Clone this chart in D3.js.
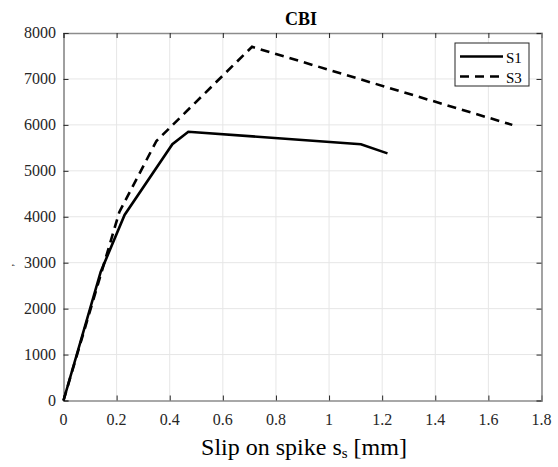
<!DOCTYPE html>
<html>
<head>
<meta charset="utf-8">
<script src="https://cdn.jsdelivr.net/npm/d3@7"></script>
<style>
  body { margin: 0; background: #fff; }
</style>
</head>
<body>
<div id="root"></div>
<script>
// data
const s1Slip = [0, 0.14, 0.23, 0.41, 0.47, 1.12, 1.22];
const s1Load = [0, 2800, 4040, 5580, 5850, 5580, 5380];
const s3Slip = [0, 0.21, 0.35, 0.71, 1.69];
const s3Load = [0, 4100, 5650, 7700, 6000];
const xTicks = [0, 0.2, 0.4, 0.6, 0.8, 1, 1.2, 1.4, 1.6, 1.8];
const xTickLabels = ['0', '0.2', '0.4', '0.6', '0.8', '1', '1.2', '1.4', '1.6', '1.8'];
const yTicks = [0, 1000, 2000, 3000, 4000, 5000, 6000, 7000, 8000];
const yTickLabels = ['0', '1000', '2000', '3000', '4000', '5000', '6000', '7000', '8000'];
const seriesNames = ['S1', 'S3'];

const W = 558, H = 467;
const m = { left: 63.5, right: 541.5, top: 33, bottom: 400.5 };
const serif = 'Liberation Serif, Times New Roman, serif';

const svg = d3.select('#root').append('svg')
  .attr('width', W).attr('height', H);

const x = d3.scaleLinear().domain([0, 1.8]).range([m.left, m.right]);
const y = d3.scaleLinear().domain([0, 8000]).range([m.bottom, m.top]);

// grid
svg.append('g').selectAll('line').data(xTicks.slice(1, -1)).enter().append('line')
  .attr('x1', d => x(d)).attr('x2', d => x(d))
  .attr('y1', m.top).attr('y2', m.bottom)
  .attr('stroke', '#e6e6e6').attr('stroke-width', 1);
svg.append('g').selectAll('line').data(yTicks.slice(1, -1)).enter().append('line')
  .attr('y1', d => y(d)).attr('y2', d => y(d))
  .attr('x1', m.left).attr('x2', m.right)
  .attr('stroke', '#e6e6e6').attr('stroke-width', 1);

// axes with inward ticks (labels drawn separately)
const xAxis = svg.append('g').attr('transform', `translate(0,${m.bottom})`)
  .call(d3.axisBottom(x).tickValues(xTicks).tickSize(-5).tickFormat(''));
const xTop = svg.append('g').attr('transform', `translate(0,${m.top})`)
  .call(d3.axisTop(x).tickValues(xTicks).tickSize(-5).tickFormat(''));
const yAxis = svg.append('g').attr('transform', `translate(${m.left},0)`)
  .call(d3.axisLeft(y).tickValues(yTicks).tickSize(-5).tickFormat(''));
const yRight = svg.append('g').attr('transform', `translate(${m.right},0)`)
  .call(d3.axisRight(y).tickValues(yTicks).tickSize(-5).tickFormat(''));

[xAxis, xTop, yAxis, yRight].forEach(g => {
  g.selectAll('.tick line').attr('stroke', '#262626');
  g.selectAll('.tick text').remove();
});
xAxis.select('.domain').attr('stroke', '#8c8c8c').attr('stroke-width', 1.6);
xTop.select('.domain').attr('stroke', '#8c8c8c').attr('stroke-width', 1.6);
yRight.select('.domain').attr('stroke', '#8c8c8c').attr('stroke-width', 1.6);
yAxis.select('.domain').attr('stroke', '#404040').attr('stroke-width', 1);

// tick labels
svg.append('g').selectAll('text').data(xTicks).enter().append('text')
  .attr('x', d => x(d)).attr('y', m.bottom + 24)
  .attr('text-anchor', 'middle')
  .style('font-family', serif).style('font-size', '16px').style('fill', '#262626')
  .text((d, i) => xTickLabels[i]);
svg.append('g').selectAll('text').data(yTicks).enter().append('text')
  .attr('x', m.left - 7.5).attr('y', d => y(d) + 5)
  .attr('text-anchor', 'end')
  .style('font-family', serif).style('font-size', '16px').style('fill', '#262626')
  .text((d, i) => yTickLabels[i]);

// lines
const line = d3.line().x(d => x(d[0])).y(d => y(d[1]));
const s1 = s1Slip.map((v, i) => [v, s1Load[i]]);
const s3 = s3Slip.map((v, i) => [v, s3Load[i]]);

svg.append('path').datum(s3).attr('d', line)
  .attr('fill', 'none').attr('stroke', '#000').attr('stroke-width', 2.6)
  .attr('stroke-dasharray', '9,6');
svg.append('path').datum(s1).attr('d', line)
  .attr('fill', 'none').attr('stroke', '#000').attr('stroke-width', 2.6);

// title
svg.append('text').attr('x', 301).attr('y', 25).attr('text-anchor', 'middle')
  .style('font-family', serif).style('font-size', '18px').style('font-weight', 'bold')
  .style('fill', '#000').text('CBI');

// x label
const xl = svg.append('text').attr('x', 304).attr('y', 455).attr('text-anchor', 'middle')
  .style('font-family', serif).style('font-size', '24px').style('fill', '#000');
xl.append('tspan').text('Slip on spike s');
xl.append('tspan').attr('dy', 3).style('font-size', '15px').text('s');
xl.append('tspan').attr('dy', -3).text(' [mm]');

// y label (only a tiny mark in the reference)
svg.append('text').attr('transform', 'translate(13,265) rotate(-90)')
  .attr('text-anchor', 'middle').style('font-family', serif).style('font-size', '11px')
  .style('fill', '#000').text(',');

// legend
const lg = svg.append('g');
lg.append('rect').attr('x', 455).attr('y', 43).attr('width', 74).attr('height', 43)
  .attr('fill', '#fff').attr('stroke', '#262626').attr('stroke-width', 1);
seriesNames.forEach((name, i) => {
  const ly = 56.5 + i * 20;
  lg.append('line').attr('x1', 460).attr('x2', 503).attr('y1', ly).attr('y2', ly)
    .attr('stroke', '#000').attr('stroke-width', 2.6)
    .attr('stroke-dasharray', i === 1 ? '9,6' : null);
  lg.append('text').attr('x', 506).attr('y', ly + 6)
    .style('font-family', serif).style('font-size', '15px').style('fill', '#000').text(name);
});
</script>
</body>
</html>
